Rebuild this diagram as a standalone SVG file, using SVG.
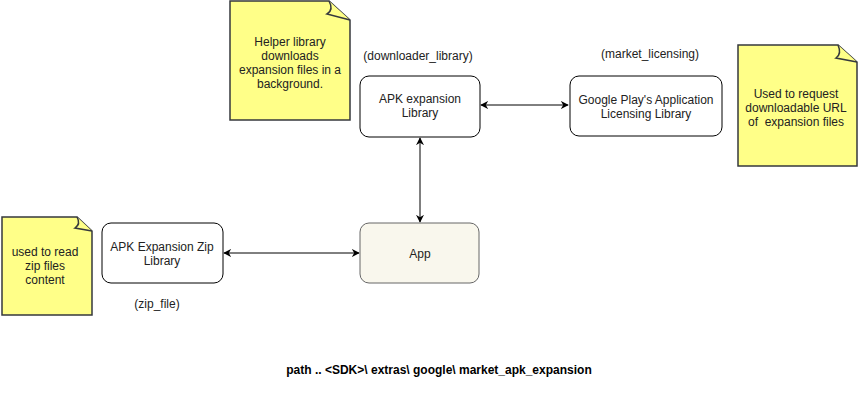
<svg xmlns="http://www.w3.org/2000/svg" width="858" height="401" viewBox="0 0 858 401">
<style>
text{font-family:"Liberation Sans",Arial,sans-serif;font-size:12px;fill:#222;text-anchor:middle}
.box{fill:#fff;stroke:#000;stroke-width:1}
.app{fill:#f9f7ed;stroke:#666;stroke-width:1}
.note{fill:#ffff88;stroke:#36393d;stroke-width:1.5}
.fold{fill:#ffff88;stroke:#36393d;stroke-width:1.5;stroke-linejoin:miter}
.conn{stroke:#000;stroke-width:1;fill:none;marker-start:url(#ah);marker-end:url(#ah)}
.b{font-weight:bold;font-size:12px;fill:#000}
</style>
<defs>
<marker id="ah" viewBox="0 0 10 10" refX="9" refY="5" markerWidth="8" markerHeight="8" orient="auto-start-reverse" markerUnits="userSpaceOnUse">
<path d="M0,0 L10,5 L0,10 L3,5 Z" fill="#000"/>
</marker>
</defs>
<rect width="858" height="401" fill="#fff"/>
<g id="connectors">
<line class="conn" x1="481" y1="105" x2="568" y2="105"/>
<line class="conn" x1="420" y1="138" x2="420" y2="222"/>
<line class="conn" x1="224" y1="253" x2="359" y2="253"/>
</g>
<g id="note-helper">
<path class="note" d="M230,1 H329 L350,20 V120 H230 Z"/>
<path class="fold" d="M329,1 Q334,10 327,14 L350,20"/>
<text x="290" y="46">Helper library</text>
<text x="290" y="60">downloads</text>
<text x="290" y="74">expansion files in a</text>
<text x="290" y="88">background.</text>
</g>
<g id="apk-expansion">
<text x="418" y="60">(downloader_library)</text>
<rect class="box" x="360" y="76" width="120" height="61" rx="9"/>
<text x="420" y="103">APK expansion</text>
<text x="420" y="117">Library</text>
</g>
<g id="licensing">
<text x="650" y="58">(market_licensing)</text>
<rect class="box" x="570" y="76" width="152" height="60" rx="9"/>
<text x="646" y="104">Google Play's Application</text>
<text x="646" y="118">Licensing Library</text>
</g>
<g id="note-licensing">
<path class="note" d="M738,45 H838 L857,62 V166 H738 Z"/>
<path class="fold" d="M838,45 Q842,54 836,58 L857,62"/>
<text x="796" y="98">Used to request</text>
<text x="796" y="112">downloadable URL</text>
<text x="796" y="126">of&#160; expansion files</text>
</g>
<g id="note-zip">
<path class="note" d="M2,217 H77 L92,231 V315 H2 Z"/>
<path class="fold" d="M77,217 Q81,224 75,228 L92,231"/>
<text x="45" y="256">used to read</text>
<text x="45" y="270">zip files</text>
<text x="45" y="284">content</text>
</g>
<g id="zip-library">
<rect class="box" x="102" y="223" width="121" height="60" rx="9"/>
<text x="162" y="251">APK Expansion Zip</text>
<text x="162" y="265">Library</text>
<text x="157" y="308">(zip_file)</text>
</g>
<g id="app">
<rect class="app" x="360" y="223" width="119" height="60" rx="9"/>
<text x="420" y="258">App</text>
</g>
<g id="path-label">
<text class="b" x="439" y="374">path .. &lt;SDK&gt;\ extras\ google\ market_apk_expansion</text>
</g>
</svg>
